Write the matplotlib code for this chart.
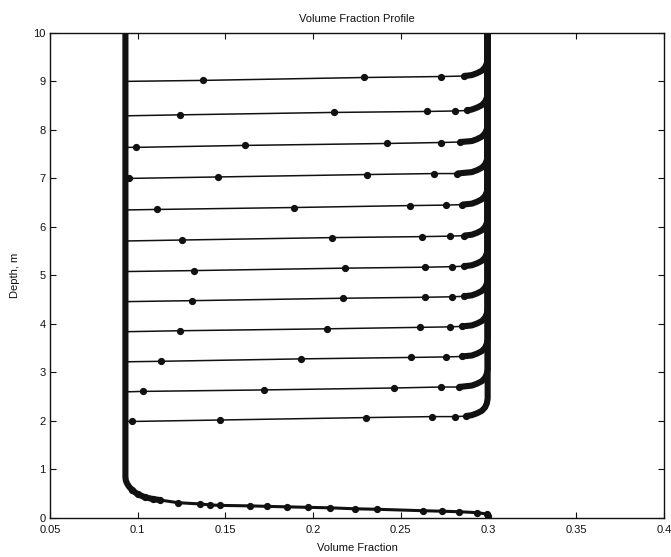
import matplotlib
matplotlib.use("Agg")
import matplotlib.pyplot as plt

# ---------------- data ----------------
title = "Volume Fraction Profile"
xlabel = "Volume Fraction"
ylabel = "Depth, m"
xticks = [0.05, 0.1, 0.15, 0.2, 0.25, 0.3, 0.35, 0.4]
xticklabels = ["0.05", "0.1", "0.15", "0.2", "0.25", "0.3", "0.35", "0.4"]
yticks = [0, 1, 2, 3, 4, 5, 6, 7, 8, 9, 10]

# lower (settled) phase fraction and upper (suspension) fraction
phi_low = 0.093
phi_high = 0.2995
top_depth = 10.0

# interface levels (depth at left end of each profile)
levels = [9.00, 8.29, 7.64, 7.00, 6.35, 5.71, 5.08, 4.46, 3.84, 3.22, 2.60, 1.99]

# sampled points along each interface profile (fraction, depth)
prof_x = [
    [0.093, 0.137, 0.229, 0.273, 0.286],
    [0.093, 0.124, 0.212, 0.265, 0.281, 0.288],
    [0.093, 0.099, 0.161, 0.242, 0.273, 0.284],
    [0.093, 0.095, 0.146, 0.231, 0.269, 0.282],
    [0.093, 0.111, 0.189, 0.255, 0.276, 0.285],
    [0.093, 0.125, 0.211, 0.262, 0.278, 0.286],
    [0.093, 0.132, 0.218, 0.264, 0.279, 0.286],
    [0.093, 0.131, 0.217, 0.264, 0.279, 0.286],
    [0.093, 0.124, 0.208, 0.261, 0.278, 0.285],
    [0.093, 0.113, 0.193, 0.256, 0.276, 0.285],
    [0.093, 0.103, 0.172, 0.246, 0.273, 0.283],
    [0.093, 0.097, 0.147, 0.230, 0.268, 0.281, 0.287],
]
prof_y = [
    [9.00, 9.02, 9.08, 9.10, 9.11],
    [8.29, 8.31, 8.36, 8.38, 8.39, 8.40],
    [7.64, 7.64, 7.68, 7.72, 7.74, 7.75],
    [7.00, 7.00, 7.03, 7.08, 7.10, 7.10],
    [6.35, 6.36, 6.40, 6.44, 6.45, 6.46],
    [5.71, 5.73, 5.78, 5.80, 5.81, 5.82],
    [5.08, 5.10, 5.15, 5.17, 5.18, 5.19],
    [4.46, 4.48, 4.53, 4.55, 4.56, 4.57],
    [3.84, 3.86, 3.90, 3.93, 3.94, 3.95],
    [3.22, 3.23, 3.28, 3.31, 3.32, 3.33],
    [2.60, 2.61, 2.64, 2.68, 2.70, 2.70],
    [1.99, 1.99, 2.02, 2.07, 2.09, 2.09, 2.10],
]
# rounded knee at the right end of each profile (fraction, rise above level)
knee_x = [0.2905, 0.2935, 0.2962, 0.2980, 0.2990, 0.2995]
knee_rise = [0.13, 0.17, 0.22, 0.29, 0.37, 0.47]

# bottom (final) profile
bottom_x = [0.2995, 0.2994, 0.2937, 0.2829, 0.2737, 0.2629, 0.2366, 0.2241,
            0.2098, 0.1973, 0.1853, 0.1739, 0.1642, 0.1470, 0.1413, 0.1356,
            0.1231, 0.1128, 0.1088, 0.1040, 0.1000, 0.0970, 0.0950, 0.0938,
            0.0932, 0.0930, 0.0930]
bottom_y = [0.05, 0.08, 0.11, 0.13, 0.14, 0.15, 0.18, 0.19,
            0.21, 0.22, 0.23, 0.24, 0.25, 0.26, 0.27, 0.29,
            0.315, 0.37, 0.39, 0.43, 0.49, 0.57, 0.65, 0.72,
            0.78, 0.85, 10.0]
bottom_marks = 22  # number of sampled (marked) points on the bottom curve
bottom_thick_from = 17  # index where the dense (thick) part of the curve starts

# ---------------- drawing ----------------
plt.rcParams['font.family'] = ['Liberation Sans', 'DejaVu Sans']
fig = plt.figure(figsize=(6.71, 5.57), dpi=100)
ax = fig.add_axes([0.0745, 0.070, 0.915, 0.871])

ink = "#111111"
thin_lw = 1.1
thick_lw = 4.4

# bottom profile: thick dense part + curve with markers
ax.plot(bottom_x[bottom_thick_from:], bottom_y[bottom_thick_from:], color=ink,
        lw=thick_lw, solid_capstyle="butt", solid_joinstyle="round", zorder=3)
ax.plot(bottom_x[:bottom_thick_from + 1], bottom_y[:bottom_thick_from + 1],
        color=ink, lw=2.2, zorder=3)
ax.plot(bottom_x[:bottom_marks], bottom_y[:bottom_marks], 'o', color=ink,
        ms=4.2, zorder=4)

for h, xs, ys in zip(levels, prof_x, prof_y):
    ax.plot(xs, ys, color=ink, lw=thin_lw, zorder=3)
    ax.plot(xs[1:], ys[1:], 'o', color=ink, ms=4.2, zorder=4)
    kx = [xs[-1]] + knee_x + [phi_high]
    ky = [ys[-1]] + [h + r for r in knee_rise] + [top_depth]
    ax.plot(kx, ky, color=ink, lw=thick_lw, solid_joinstyle="round",
            solid_capstyle="butt", zorder=3)

ax.set_xlim(0.05, 0.4)
ax.set_ylim(0, 10)
ax.set_xticks(xticks)
ax.set_xticklabels(xticklabels)
ax.set_yticks(yticks)
ax.tick_params(direction="in", length=4, width=0.8, top=True, right=True,
               labelsize=8, colors=ink)
ax.tick_params(axis="x", pad=5)
ax.tick_params(axis="y", pad=3)
for s in ax.spines.values():
    s.set_linewidth(1.0)
    s.set_color(ink)

ax.set_title(title, fontsize=8, pad=8, color=ink)
ax.set_xlabel(xlabel, fontsize=8, labelpad=6, color=ink)
ax.set_ylabel(ylabel, fontsize=8, labelpad=10, color=ink)

fig.savefig("out.png", dpi=100)
